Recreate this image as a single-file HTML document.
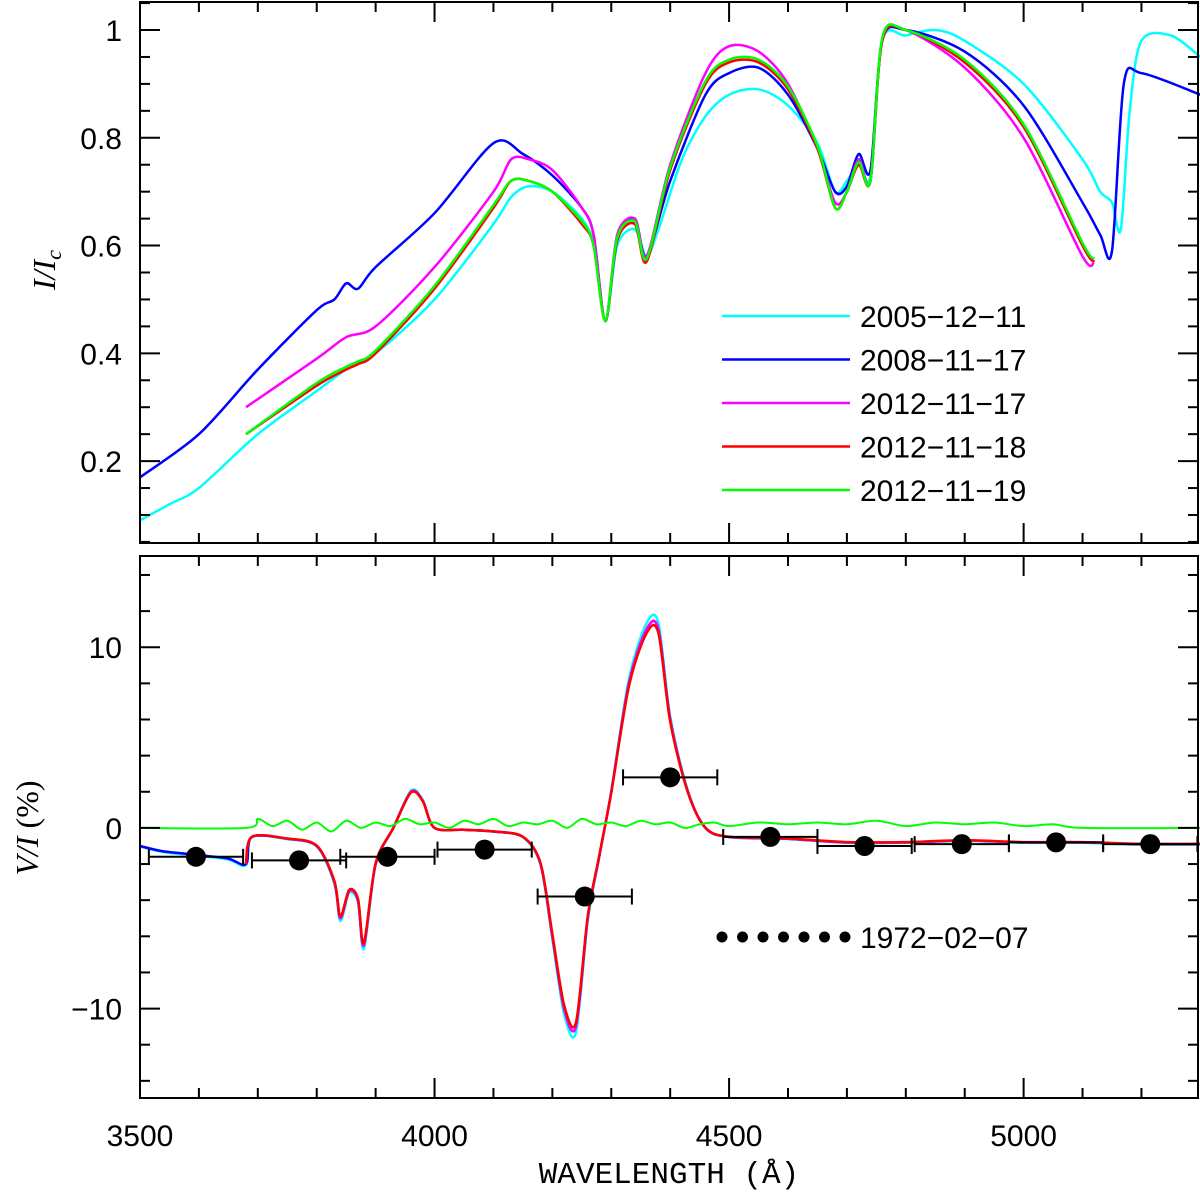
<!DOCTYPE html>
<html><head><meta charset="utf-8"><style>
html,body{margin:0;padding:0;background:#fff;}
svg{display:block;font-family:"Liberation Sans",sans-serif;}
</style></head><body>
<svg id="chart" width="1200" height="1195" viewBox="0 0 1200 1195" xmlns="http://www.w3.org/2000/svg"></svg>
<script>
const wlC=[3500,3550,3600,3700,3800,3850,3900,4000,4100,4130,4160,4200,4250,4270,4290,4310,4340,4360,4380,4420,4460,4500,4550,4600,4650,4680,4700,4720,4740,4760,4800,4850,4900,5000,5100,5130,5150,5165,5180,5200,5250,5300];
const valC=[0.09,0.12,0.15,0.25,0.33,0.37,0.40,0.50,0.64,0.69,0.71,0.70,0.65,0.60,0.46,0.60,0.63,0.58,0.63,0.76,0.84,0.88,0.89,0.86,0.79,0.70,0.72,0.75,0.73,0.98,0.99,1.0,0.98,0.90,0.76,0.70,0.68,0.63,0.85,0.98,0.99,0.95];
const wlB=[3500,3600,3700,3800,3830,3850,3870,3900,4000,4100,4150,4200,4250,4270,4290,4310,4340,4360,4400,4460,4500,4550,4600,4650,4680,4700,4720,4740,4760,4800,4900,5000,5100,5130,5150,5170,5200,5300];
const valB=[0.17,0.25,0.37,0.48,0.50,0.53,0.52,0.56,0.66,0.79,0.77,0.73,0.67,0.62,0.46,0.61,0.65,0.58,0.72,0.88,0.92,0.93,0.88,0.78,0.70,0.71,0.77,0.74,0.98,1.0,0.96,0.86,0.68,0.62,0.59,0.90,0.92,0.88];
const wlM=[3680,3800,3850,3900,4000,4100,4130,4160,4200,4250,4270,4290,4310,4340,4360,4400,4460,4500,4550,4600,4650,4680,4700,4720,4740,4760,4800,4900,5000,5100,5120];
const valM=[0.30,0.39,0.43,0.45,0.56,0.70,0.76,0.76,0.74,0.67,0.62,0.46,0.62,0.65,0.58,0.75,0.92,0.97,0.96,0.90,0.78,0.68,0.70,0.76,0.72,0.98,1.0,0.93,0.80,0.58,0.57];
const wlR=[3680,3800,3850,3870,3900,4000,4100,4130,4160,4200,4250,4270,4290,4310,4340,4360,4400,4460,4500,4550,4600,4650,4680,4700,4720,4740,4760,4800,4900,5000,5100,5120];
const valR=[0.25,0.34,0.37,0.38,0.40,0.52,0.67,0.72,0.72,0.70,0.64,0.60,0.46,0.61,0.64,0.57,0.74,0.90,0.94,0.94,0.89,0.78,0.67,0.70,0.75,0.72,0.98,1.0,0.94,0.82,0.60,0.57];
const valG=[0.25,0.345,0.375,0.385,0.405,0.525,0.675,0.72,0.72,0.70,0.645,0.60,0.46,0.615,0.645,0.575,0.745,0.905,0.945,0.945,0.895,0.785,0.67,0.70,0.755,0.72,0.985,1.0,0.945,0.825,0.605,0.575];
const wlV=[3500,3540,3600,3650,3680,3690,3750,3800,3830,3840,3855,3870,3880,3900,3930,3960,3980,4000,4050,4100,4150,4180,4200,4220,4240,4260,4280,4300,4330,4360,4380,4400,4430,4460,4500,4600,4700,4800,4900,5000,5100,5200,5300];
const valV=[-1,-1.3,-1.5,-1.7,-2,-0.5,-0.6,-1,-3,-5,-3.5,-4,-6.5,-2,0,2,1.5,0,-0.1,-0.2,-0.5,-2,-6,-10,-11,-5,-1.5,2,8,11,11,6,2,0,-0.5,-0.6,-0.8,-0.8,-0.7,-0.8,-0.8,-0.9,-0.9];
const wlVG=[3500,3680,3700,3725,3750,3775,3800,3825,3850,3875,3900,3925,3950,3975,4000,4025,4050,4075,4100,4125,4150,4175,4200,4225,4250,4275,4300,4325,4350,4375,4400,4425,4450,4475,4500,4550,4600,4650,4700,4750,4800,4850,4900,4950,5000,5050,5100,5300];
const valVG=[0,0,0.5,0.1,0.4,-0.1,0.3,-0.2,0.4,0.0,0.3,0.1,0.5,0.2,0.3,0.0,0.4,0.2,0.5,0.1,0.3,0.2,0.4,0.0,0.5,0.2,0.3,0.1,0.4,0.2,0.3,0.0,0.2,0.3,0.1,0.3,0.2,0.3,0.2,0.4,0.1,0.3,0.2,0.3,0.1,0.2,0,0];
const ptWl=[3595,3770,3920,4085,4255,4400,4570,4730,4895,5055,5215];
const ptV=[-1.6,-1.8,-1.6,-1.2,-3.8,2.8,-0.5,-1.0,-0.9,-0.8,-0.9];
const ptErr=[80,80,80,80,80,80,80,80,80,80,80];
const xTicks=[3500,4000,4500,5000];
const yTopTicks=[0.2,0.4,0.6,0.8,1];
const yBotTicks=[-10,0,10];
const legendLabels=["2005−12−11","2008−11−17","2012−11−17","2012−11−18","2012−11−19"];
const legendColors=["#00ffff","#0000ff","#ff00ff","#ff0000","#00ff00"];

const NS="http://www.w3.org/2000/svg";
const svg=document.getElementById('chart');
const L=140,R=1198;
const X0=3500,X1=5296;
const x=w=>L+(w-X0)/(X1-X0)*(R-L);
const T={top:2,bot:543,y0:0.048,y1:1.052};
const B={top:556,bot:1098,y0:-14.95,y1:15.05};
const yT=v=>T.bot-(v-T.y0)/(T.y1-T.y0)*(T.bot-T.top);
const yB=v=>B.bot-(v-B.y0)/(B.y1-B.y0)*(B.bot-B.top);
function el(tag,attrs,parent){const e=document.createElementNS(NS,tag);for(const k in attrs)e.setAttribute(k,attrs[k]);(parent||svg).appendChild(e);return e;}
function smoothPath(pts){
  let d='M'+pts[0][0].toFixed(1)+','+pts[0][1].toFixed(1);
  for(let i=0;i<pts.length-1;i++){
    const p0=pts[Math.max(0,i-1)],p1=pts[i],p2=pts[i+1],p3=pts[Math.min(pts.length-1,i+2)];
    const t=0.15;
    const c1=[p1[0]+(p2[0]-p0[0])*t,p1[1]+(p2[1]-p0[1])*t];
    const c2=[p2[0]-(p3[0]-p1[0])*t,p2[1]-(p3[1]-p1[1])*t];
    d+=' C'+c1.map(v=>v.toFixed(1)).join(',')+' '+c2.map(v=>v.toFixed(1)).join(',')+' '+p2[0].toFixed(1)+','+p2[1].toFixed(1);
  }
  return d;
}
function poly(wl,vals,fy,color,name,w){
  const pts=wl.map((a,i)=>[x(a),fy(vals[i])]);
  const p=el('path',{d:smoothPath(pts),fill:'none',stroke:color,'stroke-width':w||2.5,'stroke-linejoin':'round'});
  
  
}
poly(wlC,valC,yT,'#00ffff','series-2005-12-11');
poly(wlB,valB,yT,'#0000ff','series-2008-11-17');
poly(wlM,valM,yT,'#ff00ff','series-2012-11-17');
poly(wlR,valR,yT,'#ff0000','series-2012-11-18');
poly(wlR,valG,yT,'#00ff00','series-2012-11-19');
poly(wlV,valV.map(v=>v*1.03),yB,'#00ffff','vi-2005-12-11');
poly(wlV,valV,yB,'#0000ff','vi-2008-11-17');
poly(wlV.filter(w=>w>=3680),valV.filter((v,i)=>wlV[i]>=3680),yB,'#ff00ff','vi-2012-11-17');
poly(wlV.filter(w=>w>=3680),valV.filter((v,i)=>wlV[i]>=3680).map(v=>v*0.98),yB,'#ff0000','vi-2012-11-18');
poly(wlVG,valVG,yB,'#00ff00','vi-2012-11-19',2);
ptWl.forEach((w,i)=>{
  const g=el('g',{});
  
  
  const yy=yB(ptV[i]);
  el('line',{x1:x(w-ptErr[i]),x2:x(w+ptErr[i]),y1:yy,y2:yy,stroke:'#000','stroke-width':2},g);
  el('line',{x1:x(w-ptErr[i]),x2:x(w-ptErr[i]),y1:yy-8,y2:yy+8,stroke:'#000','stroke-width':2},g);
  el('line',{x1:x(w+ptErr[i]),x2:x(w+ptErr[i]),y1:yy-8,y2:yy+8,stroke:'#000','stroke-width':2},g);
  el('circle',{cx:x(w),cy:yy,r:10,fill:'#000'},g);
});
function frame(P,fy,ymaj,ymin,fmt,name){
  const g=el('g',{});
  
  
  el('rect',{x:L,y:P.top,width:R-L,height:P.bot-P.top,fill:'none',stroke:'#000','stroke-width':2},g);
  for(let w=3500;w<=5296;w+=100){
    const len=(w%500===0)?20:10,xx=x(w);
    el('line',{x1:xx,x2:xx,y1:P.bot,y2:P.bot-len,stroke:'#000','stroke-width':2},g);
    el('line',{x1:xx,x2:xx,y1:P.top,y2:P.top+len,stroke:'#000','stroke-width':2},g);
  }
  for(let v=Math.ceil(P.y0/ymin)*ymin;v<=P.y1;v+=ymin){
    const vv=Math.round(v*1000)/1000;
    const maj=ymaj.some(t=>Math.abs(t-vv)<1e-6);
    const len=maj?20:10,yy=fy(vv);
    el('line',{x1:L,x2:L+len,y1:yy,y2:yy,stroke:'#000','stroke-width':2},g);
    el('line',{x1:R,x2:R-len,y1:yy,y2:yy,stroke:'#000','stroke-width':2},g);
  }
  ymaj.forEach(t=>{
    const tx=el('text',{x:L-18,y:fy(t)+11,'text-anchor':'end','font-size':30},g);
    tx.textContent=fmt(t);
    
    
  });
}
frame(T,yT,yTopTicks,0.05,t=>String(t),'top-panel-frame');
frame(B,yB,yBotTicks,2,t=>t<0?'−'+(-t):String(t),'bottom-panel-frame');
xTicks.forEach(t=>{
  const tx=el('text',{x:x(t),y:1146,'text-anchor':'middle','font-size':30});
  tx.textContent=t;
  
  
});
legendLabels.forEach((lab,i)=>{
  const yy=316+i*43.5;
  const ln=el('line',{x1:722,x2:850,y1:yy,y2:yy,stroke:legendColors[i],'stroke-width':2.5});
  
  
  const tx=el('text',{x:860,y:yy+11,'font-size':30});
  tx.textContent=lab;
  
  
});
for(let k=0;k<7;k++){el('circle',{cx:722+k*20.5,cy:937,r:5.5,fill:'#000'});}
const l2=el('text',{x:860,y:948,'font-size':30});
l2.textContent='1972−02−07';


const yt1=el('text',{transform:'translate(55,270) rotate(-90)','text-anchor':'middle','font-size':32,'font-style':'italic','font-family':'Liberation Serif, serif'});
yt1.innerHTML='I/I<tspan font-size="22" dy="6">c</tspan>';


const yt2=el('text',{transform:'translate(38,828) rotate(-90)','text-anchor':'middle','font-size':32,'font-family':'Liberation Serif, serif'});
yt2.innerHTML='<tspan font-style="italic">V/I</tspan> (%)';


const xt=el('text',{x:669,y:1183,'text-anchor':'middle','font-size':31,'font-family':'Liberation Mono, monospace'});
xt.textContent='WAVELENGTH (Å)';


</script>
</body></html>
